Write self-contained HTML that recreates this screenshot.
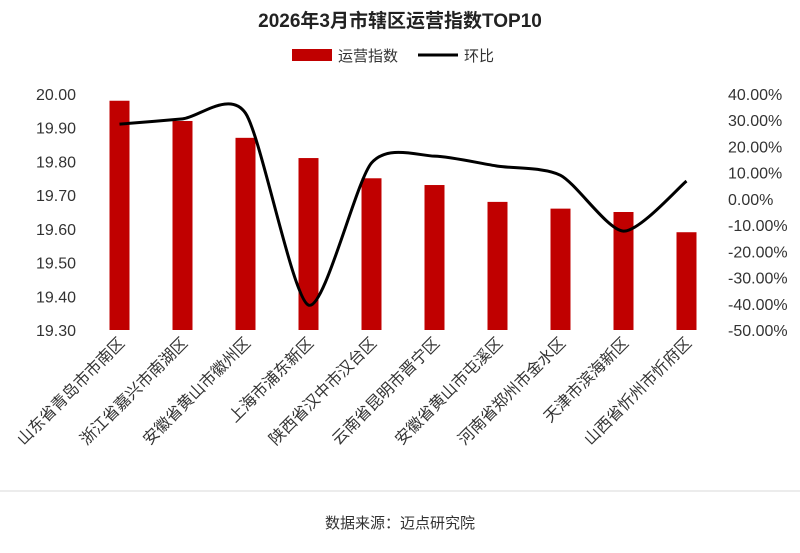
<!DOCTYPE html>
<html><head><meta charset="utf-8">
<style>
body{margin:0;background:#fff;}
svg text{font-family:"Liberation Sans","Noto Sans CJK SC",sans-serif;}
</style></head>
<body>
<svg width="800" height="548" viewBox="0 0 800 548" xmlns="http://www.w3.org/2000/svg">
<text x="400" y="27" text-anchor="middle" font-size="19" font-weight="bold" fill="#222">2026年3月市辖区运营指数TOP10</text>
<g>
<rect x="292" y="49" width="40" height="12" fill="#c00000"/>
<text x="338" y="61" font-size="15" fill="#333">运营指数</text>
<line x1="418" y1="55" x2="458" y2="55" stroke="#000" stroke-width="3"/>
<text x="464" y="61" font-size="15" fill="#333">环比</text>
</g>
<g id="leftAxis"></g><g id="rightAxis"></g><g id="bars"></g><g id="xlabels"></g><g id="line"></g>
<line x1="0" y1="491" x2="800" y2="491" stroke="#d9d9d9"/>
<text x="400" y="528" text-anchor="middle" font-size="15" fill="#333">数据来源：迈点研究院</text>
</svg>
<script>
const categories=["山东省青岛市市南区","浙江省嘉兴市南湖区","安徽省黄山市徽州区","上海市浦东新区","陕西省汉中市汉台区","云南省昆明市晋宁区","安徽省黄山市屯溪区","河南省郑州市金水区","天津市滨海新区","山西省忻州市忻府区"];
const indexValues=[19.98,19.92,19.87,19.81,19.75,19.73,19.68,19.66,19.65,19.59];
const momValues=[28.5,30.5,32.7,-40.5,13.7,16.3,12.5,9.0,-12.3,6.8];
const leftTicks=[19.30,19.40,19.50,19.60,19.70,19.80,19.90,20.00];
const rightTicks=[-50,-40,-30,-20,-10,0,10,20,30,40];
const NS="http://www.w3.org/2000/svg";
const x0=88,x1=718,yTop=94,yBot=330;
const band=(x1-x0)/categories.length;
const xC=i=>x0+band*(i+0.5);
const yL=v=>yBot-(v-19.3)/(20.0-19.3)*(yBot-yTop);
const yR=v=>yBot-(v+50)/90*(yBot-yTop);
function mk(tag,attrs,parent){const e=document.createElementNS(NS,tag);for(const k in attrs)e.setAttribute(k,attrs[k]);parent.appendChild(e);return e;}
const la=document.getElementById('leftAxis');
leftTicks.forEach(t=>{const e=mk('text',{x:76,y:yL(t)+6,'text-anchor':'end','font-size':'16',fill:'#333'},la);e.textContent=t.toFixed(2);

});
const ra=document.getElementById('rightAxis');
rightTicks.forEach(t=>{const e=mk('text',{x:728,y:yR(t)+6,'font-size':'16',fill:'#333'},ra);e.textContent=t.toFixed(2)+'%';

});
const bg=document.getElementById('bars');
indexValues.forEach((v,i)=>{const r=mk('rect',{x:xC(i)-10,y:yL(v),width:20,height:yBot-yL(v),fill:'#c00000'},bg);

});
const xl=document.getElementById('xlabels');
categories.forEach((c,i)=>{const x=xC(i)+6,y=yBot+14;const e=mk('text',{x:x,y:y,'text-anchor':'end','font-size':'16',fill:'#333',transform:`rotate(-45 ${x} ${y})`},xl);e.textContent=c;

});
const pts=momValues.map((v,i)=>[xC(i),yR(v)]);
let d=`M${pts[0][0]},${pts[0][1]}`;
for(let i=0;i<pts.length-1;i++){const p0=pts[Math.max(0,i-1)],p1=pts[i],p2=pts[i+1],p3=pts[Math.min(pts.length-1,i+2)];const t=8;
d+=` C${p1[0]+(p2[0]-p0[0])/t},${p1[1]+(p2[1]-p0[1])/t} ${p2[0]-(p3[0]-p1[0])/t},${p2[1]-(p3[1]-p1[1])/t} ${p2[0]},${p2[1]}`;}
const ln=mk('path',{d:d,fill:'none',stroke:'#000','stroke-width':'3'},document.getElementById('line'));


</script>
</body></html>
